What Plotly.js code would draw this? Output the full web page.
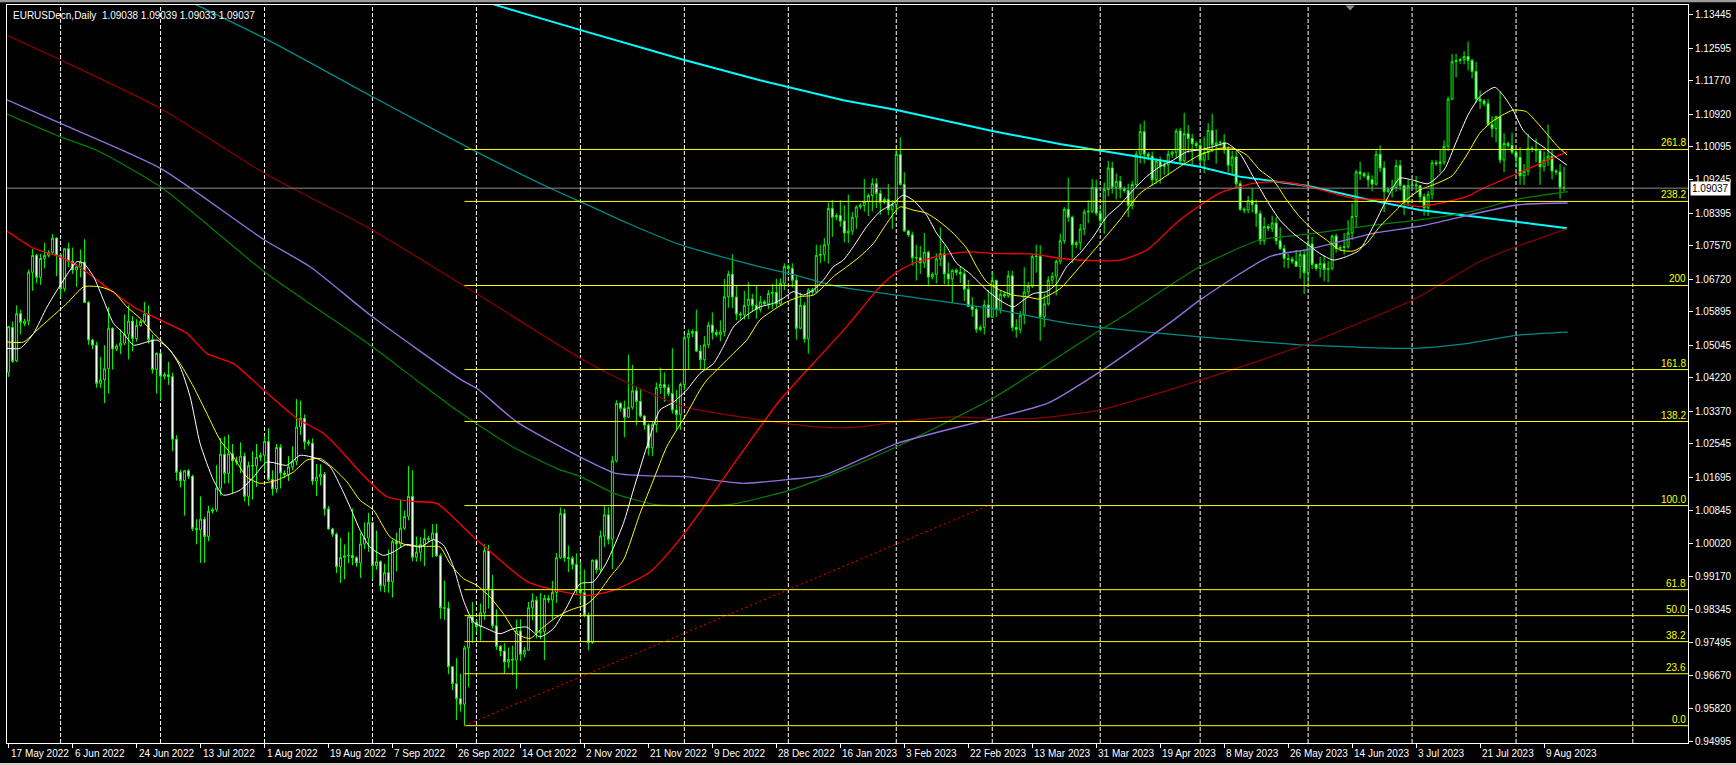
<!DOCTYPE html>
<html><head><meta charset="utf-8">
<script src="https://cdn.plot.ly/plotly-3.0.1.min.js"></script>
<style>html,body{margin:0;padding:0;background:#000;overflow:hidden}#chart{width:1736px;height:765px}</style>
</head><body><div id="chart"></div>
<script>
// ---- EURUSDecn Daily, bars 17 May 2022 .. 15 Aug 2023 (incl. short Sunday bars) ----
const opens = [
1.0436,1.0550,1.0465,1.0585,
1.0560,1.0566,1.0690,1.0733,1.0677,1.0725,
1.0733,1.0740,1.0777,1.0733,1.0648,1.0750,
1.0718,1.0696,1.0704,1.0716,1.0613,
1.0518,1.0505,1.0408,1.0417,1.0445,1.0548,
1.0495,1.0503,1.0510,1.0533,1.0566,1.0522,
1.0555,1.0565,1.0584,1.0519,1.0443,1.0484,
1.0426,1.0430,1.0425,1.0266,1.0182,1.0161,
1.0186,1.0172,1.0039,1.0036,1.0063,1.0019,
1.0083,1.0087,1.0142,1.0228,1.0179,1.0229,
1.0211,1.0208,1.0223,1.0121,1.0199,1.0198,
1.0220,1.0225,1.0260,1.0164,1.0140,1.0245,
1.0180,1.0176,1.0196,1.0210,1.0297,1.0319,
1.0259,1.0256,1.0160,1.0170,1.0177,1.0089,
1.0038,1.0025,0.9942,0.9966,0.9970,0.9971,
0.9965,0.9952,1.0000,1.0015,1.0054,0.9945,
0.9955,0.9894,0.9927,0.9904,1.0006,1.0000,
1.0040,1.0070,1.0121,0.9966,0.9979,0.9999,
1.0014,1.0012,1.0028,0.9970,0.9838,0.9837,
0.9688,0.9645,0.9607,0.9593,0.9736,0.9815,
0.9801,0.9790,0.9825,0.9983,0.9883,0.9792,
0.9740,0.9728,0.9700,0.9707,0.9705,0.9779,
0.9720,0.9730,0.9838,0.9857,0.9775,0.9777,
0.9862,0.9858,0.9877,0.9965,1.0077,0.9965,
0.9963,0.9948,0.9883,0.9876,0.9819,0.9750,
0.9959,0.9935,1.0020,1.0074,1.0012,1.0211,
1.0357,1.0345,1.0322,1.0347,1.0389,1.0362,
1.0325,1.0302,1.0244,1.0303,1.0397,1.0405,
1.0397,1.0382,1.0340,1.0329,1.0405,1.0524,
1.0535,1.0540,1.0490,1.0468,1.0506,1.0556,
1.0537,1.0532,1.0539,1.0628,1.0685,1.0627,
1.0584,1.0582,1.0606,1.0622,1.0606,1.0596,
1.0615,1.0610,1.0636,1.0639,1.0610,1.0662,
1.0705,1.0700,1.0670,1.0548,1.0606,1.0521,
1.0645,1.0640,1.0733,1.0735,1.0760,1.0852,
1.0830,1.0834,1.0820,1.0790,1.0795,1.0830,
1.0856,1.0860,1.0870,1.0885,1.0915,1.0890,
1.0868,1.0875,1.0849,1.0862,1.0989,1.0913,
1.0795,1.0785,1.0727,1.0727,1.0714,1.0741,
1.0678,1.0685,1.0724,1.0737,1.0686,1.0673,
1.0695,1.0690,1.0686,1.0647,1.0603,1.0596,
1.0545,1.0550,1.0607,1.0576,1.0669,1.0597,
1.0634,1.0630,1.0681,1.0550,1.0545,1.0581,
1.0640,1.0655,1.0730,1.0731,1.0577,1.0610,
1.0670,1.0680,1.0718,1.0770,1.0850,1.0830,
1.0760,1.0765,1.0800,1.0843,1.0845,1.0905,
1.0840,1.0822,1.0900,1.0955,1.0906,1.0921,
1.0902,1.0898,1.0860,1.0913,1.0990,1.1047,
1.0990,1.0985,1.0925,1.0972,1.0959,1.0963,
1.0990,1.0995,1.1049,1.0973,1.1042,1.1030,
1.1017,1.1012,1.0975,1.0994,1.1050,1.1014,
1.1019,1.1020,1.1003,1.0962,1.0983,1.0915,
1.0850,1.0848,1.0872,1.0862,1.0839,1.0770,
1.0806,1.0802,1.0815,1.0770,1.0750,1.0725,
1.0723,1.0718,1.0705,1.0735,1.0689,1.0762,
1.0710,1.0700,1.0712,1.0697,1.0700,1.0782,
1.0750,1.0753,1.0755,1.0790,1.0832,1.0945,
1.0940,1.0935,1.0925,1.0914,1.0990,1.0955,
1.0895,1.0900,1.0905,1.0961,1.0910,1.0867,
1.0910,1.0912,1.0910,1.0882,1.0854,1.0888,
1.0968,1.0966,1.0970,1.1010,1.1130,1.1225,
1.1228,1.1230,1.1238,1.1228,1.1200,1.1130,
1.1125,1.1118,1.1065,1.1055,1.1085,1.0975,
1.1017,1.1012,1.0995,1.0982,1.0935,1.0947,
1.1005,1.1003,1.0999,1.0958,1.0975,1.0985,
1.0947,1.0945,1.0905];

const highs = [
1.0554,1.0565,1.0606,1.0595,
1.0572,1.0697,1.0749,1.0737,1.0737,1.0765,
1.0746,1.0787,1.0779,1.0737,1.0750,1.0765,
1.0753,1.0711,1.0748,1.0774,1.0617,
1.0521,1.0514,1.0475,1.0505,1.0601,1.0550,
1.0507,1.0545,1.0583,1.0606,1.0579,1.0571,
1.0570,1.0615,1.0606,1.0532,1.0486,1.0486,
1.0436,1.0463,1.0435,1.0276,1.0189,1.0188,
1.0190,1.0176,1.0063,1.0121,1.0069,1.0097,
1.0092,1.0200,1.0269,1.0273,1.0278,1.0254,
1.0222,1.0258,1.0232,1.0209,1.0235,1.0254,
1.0232,1.0274,1.0294,1.0187,1.0254,1.0253,
1.0186,1.0223,1.0248,1.0368,1.0364,1.0329,
1.0265,1.0268,1.0203,1.0202,1.0183,1.0096,
1.0041,1.0029,1.0016,0.9999,1.0030,1.0090,
0.9969,1.0028,1.0055,1.0079,1.0056,1.0034,
0.9958,0.9950,0.9986,1.0011,1.0029,1.0113,
1.0085,1.0198,1.0187,1.0019,1.0017,1.0037,
1.0020,1.0050,1.0051,0.9976,0.9907,0.9853,
0.9690,0.9710,0.9671,0.9742,0.9816,0.9853,
0.9808,0.9849,0.9999,0.9998,0.9922,0.9834,
0.9744,0.9748,0.9737,0.9742,0.9808,0.9809,
0.9738,0.9853,0.9875,0.9867,0.9876,0.9871,
0.9870,0.9906,0.9977,1.0093,1.0089,0.9996,
0.9970,0.9976,0.9954,0.9935,0.9826,0.9960,
0.9962,1.0034,1.0096,1.0093,1.0223,1.0365,
1.0360,1.0364,1.0481,1.0455,1.0401,1.0393,
1.0327,1.0306,1.0311,1.0410,1.0448,1.0436,
1.0405,1.0497,1.0391,1.0410,1.0530,1.0545,
1.0545,1.0595,1.0505,1.0528,1.0564,1.0588,
1.0545,1.0568,1.0673,1.0694,1.0736,1.0657,
1.0590,1.0643,1.0665,1.0635,1.0657,1.0630,
1.0620,1.0645,1.0660,1.0673,1.0675,1.0713,
1.0710,1.0713,1.0684,1.0638,1.0614,1.0650,
1.0650,1.0760,1.0759,1.0777,1.0867,1.0874,
1.0840,1.0873,1.0860,1.0887,1.0843,1.0860,
1.0865,1.0927,1.0890,1.0929,1.0929,1.0900,
1.0880,1.0914,1.0873,1.1000,1.1033,1.0944,
1.0798,1.0793,1.0760,1.0757,1.0790,1.0745,
1.0690,1.0738,1.0804,1.0758,1.0715,1.0697,
1.0700,1.0705,1.0698,1.0671,1.0627,1.0603,
1.0556,1.0620,1.0645,1.0691,1.0672,1.0643,
1.0640,1.0694,1.0694,1.0571,1.0592,1.0703,
1.0665,1.0737,1.0760,1.0759,1.0635,1.0680,
1.0690,1.0722,1.0788,1.0856,1.0930,1.0834,
1.0770,1.0813,1.0850,1.0873,1.0927,1.0925,
1.0850,1.0918,1.0973,1.0971,1.0941,1.0935,
1.0908,1.0915,1.0922,1.0998,1.1067,1.1075,
1.0995,1.0997,1.0979,1.0984,1.0971,1.1000,
1.1000,1.1055,1.1057,1.1095,1.1064,1.1042,
1.1023,1.1029,1.1035,1.1069,1.1092,1.1053,
1.1025,1.1041,1.1010,1.0998,1.0998,1.0923,
1.0855,1.0884,1.0904,1.0875,1.0847,1.0830,
1.0812,1.0834,1.0830,1.0804,1.0760,1.0737,
1.0730,1.0747,1.0744,1.0745,1.0779,1.0780,
1.0712,1.0729,1.0732,1.0719,1.0786,1.0788,
1.0758,1.0790,1.0823,1.0865,1.0950,1.0971,
1.0945,1.0945,1.0936,1.1000,1.1012,1.0972,
1.0905,1.0925,1.0976,1.0975,1.0913,1.0925,
1.0918,1.0935,1.0912,1.0890,1.0897,1.0975,
1.0975,1.1001,1.1025,1.1136,1.1245,1.1245,
1.1235,1.1252,1.1276,1.1232,1.1224,1.1152,
1.1130,1.1130,1.1087,1.1088,1.1149,1.1043,
1.1022,1.1045,1.1000,1.1008,1.0965,1.1042,
1.1010,1.1030,1.1001,1.0997,1.1065,1.1004,
1.0952,1.0965,1.0958];

const lows = [
1.0424,1.0460,1.0462,1.0532,
1.0553,1.0555,1.0643,1.0662,1.0658,1.0700,
1.0728,1.0737,1.0680,1.0627,1.0641,1.0703,
1.0686,1.0653,1.0677,1.0612,1.0506,
1.0495,1.0397,1.0396,1.0358,1.0382,1.0443,
1.0490,1.0482,1.0505,1.0469,1.0489,1.0514,
1.0552,1.0560,1.0509,1.0433,1.0382,1.0365,
1.0418,1.0404,1.0236,1.0161,1.0144,1.0072,
1.0165,1.0033,0.9999,0.9952,0.9952,1.0007,
1.0077,1.0082,1.0123,1.0153,1.0154,1.0128,
1.0200,1.0180,1.0108,1.0097,1.0113,1.0145,
1.0210,1.0185,1.0160,1.0123,1.0130,1.0141,
1.0168,1.0160,1.0187,1.0200,1.0277,1.0240,
1.0250,1.0150,1.0122,1.0149,1.0072,1.0036,
1.0018,0.9926,0.9901,0.9910,0.9951,0.9946,
0.9942,0.9914,0.9987,0.9980,0.9910,0.9935,
0.9880,0.9877,0.9876,0.9864,0.9930,0.9990,
1.0035,1.0060,0.9956,0.9955,0.9956,0.9944,
1.0005,0.9966,0.9967,0.9810,0.9807,0.9669,
0.9629,0.9553,0.9574,0.9538,0.9636,0.9749,
0.9777,0.9754,0.9807,0.9836,0.9785,0.9731,
0.9715,0.9671,0.9684,0.9667,0.9632,0.9703,
0.9712,0.9728,0.9806,0.9760,0.9758,0.9705,
0.9850,0.9808,0.9850,0.9962,0.9954,0.9929,
0.9935,0.9870,0.9851,0.9814,0.9730,0.9746,
0.9925,0.9928,0.9992,0.9999,0.9936,1.0207,
1.0336,1.0271,1.0320,1.0341,1.0302,1.0321,
1.0290,1.0225,1.0223,1.0283,1.0381,1.0361,
1.0375,1.0331,1.0290,1.0290,1.0391,1.0443,
1.0525,1.0487,1.0442,1.0444,1.0497,1.0519,
1.0526,1.0515,1.0527,1.0600,1.0599,1.0568,
1.0570,1.0570,1.0571,1.0591,1.0572,1.0588,
1.0605,1.0596,1.0597,1.0601,1.0607,1.0645,
1.0690,1.0652,1.0519,1.0545,1.0511,1.0483,
1.0632,1.0637,1.0713,1.0718,1.0712,1.0780,
1.0822,1.0806,1.0766,1.0765,1.0785,1.0800,
1.0850,1.0844,1.0833,1.0845,1.0853,1.0836,
1.0864,1.0835,1.0800,1.0842,1.0910,1.0793,
1.0780,1.0707,1.0669,1.0686,1.0701,1.0654,
1.0672,1.0662,1.0706,1.0660,1.0654,1.0613,
1.0682,1.0663,1.0617,1.0602,1.0577,1.0536,
1.0540,1.0532,1.0575,1.0574,1.0577,1.0585,
1.0625,1.0625,1.0540,1.0524,1.0535,1.0558,
1.0630,1.0650,1.0689,1.0516,1.0551,1.0605,
1.0660,1.0631,1.0710,1.0762,1.0818,1.0713,
1.0752,1.0747,1.0784,1.0815,1.0840,1.0834,
1.0810,1.0788,1.0883,1.0890,1.0875,1.0878,
1.0892,1.0830,1.0850,1.0906,1.0967,1.0966,
1.0975,1.0910,1.0915,1.0915,1.0938,1.0936,
1.0980,1.0980,1.0965,1.0968,1.0993,1.0960,
1.1005,1.0965,1.0942,1.0975,1.0995,1.0966,
1.1010,1.0991,1.0944,1.0940,1.0906,1.0846,
1.0840,1.0840,1.0842,1.0805,1.0760,1.0760,
1.0795,1.0792,1.0760,1.0747,1.0702,1.0700,
1.0712,1.0704,1.0674,1.0635,1.0662,1.0698,
1.0694,1.0677,1.0667,1.0665,1.0695,1.0740,
1.0745,1.0735,1.0750,1.0772,1.0803,1.0924,
1.0930,1.0905,1.0896,1.0910,1.0945,1.0843,
1.0890,1.0880,1.0895,1.0898,1.0835,1.0858,
1.0905,1.0892,1.0867,1.0834,1.0833,1.0875,
1.0960,1.0943,1.0963,1.0998,1.1127,1.1185,
1.1220,1.1218,1.1203,1.1183,1.1120,1.1105,
1.1112,1.1062,1.1033,1.1020,1.0967,1.0944,
1.1005,1.0990,1.0956,1.0912,1.0912,1.0936,
1.0995,1.0970,1.0912,1.0946,1.0960,1.0926,
1.0938,1.0877,1.0896];

const closes = [
1.0552,1.0464,1.0585,1.0563,
1.0566,1.0690,1.0733,1.0677,1.0725,1.0733,
1.0740,1.0777,1.0733,1.0648,1.0750,1.0718,
1.0696,1.0704,1.0716,1.0613,1.0518,
1.0505,1.0408,1.0417,1.0445,1.0548,1.0495,
1.0503,1.0510,1.0533,1.0566,1.0522,1.0555,
1.0565,1.0584,1.0519,1.0443,1.0484,1.0426,
1.0430,1.0425,1.0266,1.0182,1.0161,1.0186,
1.0172,1.0039,1.0036,1.0063,1.0019,1.0083,
1.0087,1.0142,1.0228,1.0179,1.0229,1.0211,
1.0208,1.0223,1.0121,1.0199,1.0198,1.0220,
1.0225,1.0260,1.0164,1.0140,1.0245,1.0180,
1.0176,1.0196,1.0210,1.0297,1.0319,1.0259,
1.0256,1.0160,1.0170,1.0177,1.0089,1.0038,
1.0025,0.9942,0.9966,0.9970,0.9971,0.9965,
0.9952,1.0000,1.0015,1.0054,0.9945,0.9955,
0.9894,0.9927,0.9904,1.0006,1.0000,1.0040,
1.0070,1.0121,0.9966,0.9979,0.9999,1.0014,
1.0012,1.0028,0.9970,0.9838,0.9837,0.9688,
0.9645,0.9607,0.9593,0.9736,0.9815,0.9801,
0.9790,0.9825,0.9983,0.9883,0.9792,0.9740,
0.9728,0.9700,0.9707,0.9705,0.9779,0.9720,
0.9730,0.9838,0.9857,0.9775,0.9777,0.9862,
0.9858,0.9877,0.9965,1.0077,0.9965,0.9963,
0.9948,0.9883,0.9876,0.9819,0.9750,0.9959,
0.9935,1.0020,1.0074,1.0012,1.0211,1.0357,
1.0345,1.0322,1.0347,1.0389,1.0362,1.0325,
1.0302,1.0244,1.0303,1.0397,1.0405,1.0397,
1.0382,1.0340,1.0329,1.0405,1.0524,1.0535,
1.0540,1.0490,1.0468,1.0506,1.0556,1.0537,
1.0532,1.0539,1.0628,1.0685,1.0627,1.0584,
1.0582,1.0606,1.0622,1.0606,1.0596,1.0615,
1.0610,1.0636,1.0639,1.0610,1.0662,1.0705,
1.0700,1.0670,1.0548,1.0606,1.0521,1.0645,
1.0640,1.0733,1.0735,1.0760,1.0852,1.0830,
1.0834,1.0820,1.0790,1.0795,1.0830,1.0856,
1.0860,1.0870,1.0885,1.0915,1.0890,1.0868,
1.0875,1.0849,1.0862,1.0989,1.0913,1.0795,
1.0785,1.0727,1.0727,1.0714,1.0741,1.0678,
1.0685,1.0724,1.0737,1.0686,1.0673,1.0695,
1.0690,1.0686,1.0647,1.0603,1.0596,1.0545,
1.0550,1.0607,1.0576,1.0669,1.0597,1.0634,
1.0630,1.0681,1.0550,1.0545,1.0581,1.0640,
1.0655,1.0730,1.0731,1.0577,1.0610,1.0670,
1.0680,1.0718,1.0770,1.0850,1.0830,1.0760,
1.0765,1.0800,1.0843,1.0845,1.0905,1.0840,
1.0822,1.0900,1.0955,1.0906,1.0921,1.0902,
1.0898,1.0860,1.0913,1.0990,1.1047,1.0990,
1.0985,1.0925,1.0972,1.0959,1.0963,1.0990,
1.0995,1.1049,1.0973,1.1042,1.1030,1.1017,
1.1012,1.0975,1.0994,1.1050,1.1014,1.1019,
1.1020,1.1003,1.0962,1.0983,1.0915,1.0850,
1.0848,1.0872,1.0862,1.0839,1.0770,1.0806,
1.0802,1.0815,1.0770,1.0750,1.0725,1.0723,
1.0718,1.0705,1.0735,1.0689,1.0762,1.0710,
1.0700,1.0712,1.0697,1.0700,1.0782,1.0750,
1.0753,1.0755,1.0790,1.0832,1.0945,1.0940,
1.0935,1.0925,1.0914,1.0990,1.0955,1.0895,
1.0900,1.0905,1.0961,1.0910,1.0867,1.0910,
1.0912,1.0910,1.0882,1.0854,1.0888,1.0968,
1.0966,1.0970,1.1010,1.1130,1.1225,1.1228,
1.1230,1.1238,1.1228,1.1200,1.1130,1.1125,
1.1118,1.1065,1.1055,1.1085,1.0975,1.1017,
1.1012,1.0995,1.0982,1.0935,1.0947,1.1005,
1.1003,1.0999,1.0958,1.0975,1.0985,1.0947,
1.0945,1.0905,1.0904];

// time axis labels (bar index of each label) and month separators (grid)
const tickIdx = [0,16,32,48,64,80,96,112,128,144,160,176,192,208,224,240,256,272,288,304,320,336,352,368,384];
const tickLabels = ['17 May 2022','6 Jun 2022','24 Jun 2022','13 Jul 2022','1 Aug 2022','19 Aug 2022','7 Sep 2022','26 Sep 2022','14 Oct 2022','2 Nov 2022','21 Nov 2022','9 Dec 2022','28 Dec 2022','16 Jan 2023','3 Feb 2023','22 Feb 2023','13 Mar 2023','31 Mar 2023','19 Apr 2023','8 May 2023','26 May 2023','14 Jun 2023','3 Jul 2023','21 Jul 2023','9 Aug 2023'];
const monthIdx = [13,38,64,91,117,143,169,195,222,246,273,298,325,351,377,406.2];
const priceTicks = [1.13445,1.12595,1.11770,1.10920,1.10095,1.09245,1.08395,1.07570,1.06720,1.05895,1.05045,1.04220,1.03370,1.02545,1.01695,1.00845,1.00020,0.99170,0.98345,0.97495,0.96670,0.95820,0.94995];

// Fibonacci object
const fibLevels = [0,23.6,38.2,50,61.8,100,138.2,161.8,200,238.2,261.8];
const fibLabels = ['0.0','23.6','38.2','50.0','61.8','100.0','138.2','161.8','200','238.2','261.8'];
const fibLow = 0.95385, fibHigh = 1.00975;
const fibStartIdx = 114, fibEndIdx = 245;
const bidPrice = 1.09037;
const shiftMarkIdx = 335.5;

// moving averages (bar index, price)
const maWhiteIdx = [-0.4,2.9,6.25,9.6,12.9,17.1,18.75,21.25,23.75,26.25,28.75,31.25,34.6,37.1,40.4,42.9,45.4,47.9,51.25,53.75,57.9,61.25,64.6,69.6,72.9,77.1,80.4,82.9,85.4,87.9,90.4,93.75,96.25,99.6,102.9,106.25,108.75,111.25,113.75,116.25,119.6,122.9,126.25,129.6,132.9,136.25,139.6,142.9,146.25,149.6,153.75,156.25,159.6,162.9,166.25,169.6,172.9,176.25,178.75,181.25,184.6,187.9,191.25,193.75,196.25,198.75,201.25,203.75,206.25,208.75,211.25,214.6,217.9,221.25,223.75,226.25,229.6,232.1,234.6,237.1,240.4,244.6,247.9,251.25,253.75,256.25,259.6,262,264.6,267.9,271.25,274.6,277.9,281.25,284.6,287.9,291.25,294.6,297.9,301.25,304.6,307.9,311.25,314.6,317.9,321.25,324.6,327.9,331.25,334.6,337.9,341.25,344.6,347.9,351.25,355,359,362,365,367.9,369.6,371.7,373.75,376.25,378.75,381.25,383.75,386.25,389.75];
const maWhiteVal = [1.0497,1.0497,1.0535,1.0602,1.0657,1.0717,1.0713,1.0679,1.0619,1.0560,1.0535,1.0505,1.0513,1.0518,1.0492,1.0450,1.0374,1.0255,1.0162,1.0124,1.0137,1.0170,1.0208,1.0200,1.0225,1.0217,1.0196,1.0149,1.0094,1.0035,0.9992,0.9971,0.9980,0.9999,0.9992,1.0011,0.9997,0.9942,0.9857,0.9802,0.9785,0.9772,0.9785,0.9789,0.9764,0.9785,0.9840,0.9899,0.9904,0.9954,1.0052,1.0137,1.0247,1.0340,1.0360,1.0391,1.0433,1.0458,1.0501,1.0551,1.0581,1.0602,1.0611,1.0624,1.0641,1.0632,1.0645,1.0670,1.0704,1.0721,1.0755,1.0806,1.0844,1.0865,1.0886,1.0873,1.0835,1.0789,1.0755,1.0713,1.0687,1.0645,1.0619,1.0602,1.0619,1.0636,1.0641,1.0660,1.0704,1.0738,1.0780,1.0831,1.0861,1.0899,1.0933,1.0958,1.0975,1.0996,1.1001,1.1009,1.1018,1.0992,1.0933,1.0874,1.0823,1.0789,1.0763,1.0738,1.0721,1.0730,1.0747,1.0806,1.0874,1.0929,1.0924,1.0915,1.0950,1.1020,1.1090,1.1136,1.1149,1.1160,1.1140,1.1102,1.1051,1.1026,1.1009,1.0988,1.0962];

const maYellowIdx = [-0.4,3.75,7.1,10.4,14.6,18.75,22.9,26.25,29.6,32.9,36.25,39.6,42.9,46.25,49.6,52.9,56.25,59.6,62.9,67.1,71.25,74.6,77.9,81.25,84.6,87.9,91.25,95.4,99.6,104.6,107.9,110.4,113.75,117.1,120.4,123.75,127.1,130.4,133.75,137.1,140.4,144.6,147.1,150.4,153.75,157.9,161.25,164.6,169.6,172.9,174.6,177.9,181.25,184.6,187.9,191.25,194.6,197.9,201.25,203.75,206.25,209.6,212.9,216.25,219.6,222.9,226.25,229.6,232.9,236.25,239.6,242.1,244.6,247.9,251.25,254.6,257.9,262.9,267.9,272.9,277.9,282.9,287.9,292.9,297.9,302.9,306.25,309.6,312.9,316.25,319.6,322.9,326.25,329.6,332.9,336.25,339.6,342.9,346.25,349.6,352.9,357,361,364.5,367.9,370.4,372.9,376.25,379.6,382.1,384.6,387.1,389.75];
const maYellowVal = [1.0513,1.0513,1.0543,1.0573,1.0611,1.0653,1.0653,1.0640,1.0602,1.0573,1.0535,1.0501,1.0458,1.0399,1.0331,1.0264,1.0221,1.0170,1.0154,1.0162,1.0183,1.0213,1.0217,1.0192,1.0158,1.0111,1.0086,1.0018,0.9997,0.9994,0.9992,0.9950,0.9912,0.9895,0.9865,0.9823,0.9772,0.9760,0.9789,0.9815,0.9832,0.9847,0.9870,0.9916,0.9959,1.0077,1.0162,1.0247,1.0331,1.0391,1.0416,1.0450,1.0484,1.0518,1.0569,1.0594,1.0615,1.0628,1.0632,1.0653,1.0679,1.0704,1.0730,1.0763,1.0814,1.0856,1.0848,1.0840,1.0818,1.0789,1.0751,1.0704,1.0666,1.0645,1.0632,1.0628,1.0622,1.0648,1.0704,1.0763,1.0823,1.0890,1.0924,1.0958,1.0988,1.1005,1.1005,1.0988,1.0950,1.0924,1.0874,1.0831,1.0797,1.0772,1.0747,1.0744,1.0763,1.0806,1.0840,1.0874,1.0899,1.0915,1.0935,1.0985,1.1043,1.1068,1.1085,1.1102,1.1098,1.1072,1.1043,1.1013,1.0988];

const maRedIdx = [-0.4,6.25,12.9,18.75,25.4,31.25,37.9,44.6,49.6,56.25,63.75,72.1,78.75,83,87.9,94.6,101,107.1,116.25,129.6,136.25,144.6,151.25,160.4,166.25,172.9,182.5,192.9,201.25,209.6,217.9,222.1,226.25,234.6,240.4,246.1,256.4,263.2,272.9,277.9,284.6,292.9,302.9,311.25,317.9,324.6,336.25,344.6,352.9,364.6,367.9,389.75];
const maRedVal = [1.0795,1.0751,1.0729,1.0696,1.0645,1.0602,1.0569,1.0535,1.0484,1.0458,1.0391,1.0319,1.0281,1.0238,1.0183,1.0120,1.0108,1.0103,1.0018,0.9905,0.9884,0.9869,0.9882,0.9929,0.9992,1.0081,1.0220,1.0365,1.0459,1.0552,1.0653,1.0690,1.0713,1.0736,1.0742,1.0738,1.0736,1.0725,1.0719,1.0721,1.0746,1.0823,1.0891,1.0916,1.0920,1.0909,1.0878,1.0874,1.0857,1.0882,1.0899,1.0996];

const maGreenIdx = [-0.4,13,22,38,64,91,102,112,126,137,143,151.6,161.7,170,180.3,195.2,208,222.1,246.1,272.9,277.1,297.9,312.9,325,341.2,352.9,366,377,389.9];
const maGreenVal = [1.1092,1.1034,1.1000,1.0907,1.0691,1.0501,1.0416,1.0340,1.0247,1.0192,1.0171,1.0128,1.0100,1.0097,1.0100,1.0136,1.0185,1.0247,1.0370,1.0543,1.0568,1.0704,1.0772,1.0787,1.0810,1.0823,1.0845,1.0875,1.0895];

const maPurpleIdx = [-0.4,13,38,64,75.4,91,113.35,117.1,127.1,143.1,151.6,160,169.2,183.7,195.2,204,222.1,246.1,259.8,272.9,291.25,298,315.4,325,341.25,352.9,377.1,389.9];
const maPurpleVal = [1.1128,1.1068,1.0954,1.0772,1.0704,1.0577,1.0416,1.0395,1.0310,1.0220,1.0180,1.0173,1.0171,1.0154,1.0164,1.0175,1.0255,1.0319,1.0357,1.0437,1.0568,1.0620,1.0730,1.0748,1.0789,1.0807,1.0861,1.0866];

const maDarkRedIdx = [-0.4,13.1,38,64.1,91,117,143.1,155,169.2,188.8,204,212.4,222.1,236.1,246.1,256.4,272.9,298,325,351,367.9,377.1,389.9];
const maDarkRedVal = [1.1292,1.1229,1.1106,1.0941,1.0797,1.0636,1.0471,1.0408,1.0348,1.0314,1.0296,1.0297,1.0310,1.0323,1.0319,1.0319,1.0340,1.0416,1.0509,1.0619,1.0717,1.0755,1.0801];

const maTealIdx = [40,47.6,64.1,91,117,136.4,143.1,155,168,187.9,195.1,207.9,222.1,246,262.9,272.9,298,325,351,364.6,377,389.9];
const maTealVal = [1.1404,1.1366,1.1284,1.1136,1.0996,1.0899,1.0869,1.0814,1.0760,1.0704,1.0687,1.0653,1.0632,1.0598,1.0564,1.0550,1.0526,1.0505,1.0497,1.0509,1.0530,1.0538];

const maCyanIdx = [115,122.75,143.1,169,187.9,208.75,222.1,246,262.9,272.9,297.9,307.9,325,341.25,352.9,367.9,389.75];
const maCyanVal = [1.1390,1.1366,1.1305,1.1229,1.1178,1.1127,1.1102,1.1049,1.1016,1.0999,1.0958,1.0933,1.0909,1.0872,1.0848,1.0830,1.0802];

// ---------------------------------------------------------------
const barIdx = opens.map((_, i) => i);
const xMin = -0.4, xMax = 420;
const FONT = 'Liberation Sans, Arial, sans-serif';

function maTrace(xs, ys, color, width, shape) {
  return {type:'scatter', mode:'lines', x:xs, y:ys, hoverinfo:'skip',
          line:{color:color, width:width, shape:shape || 'spline', smoothing:0.6}};
}

const traces = [
  {type:'candlestick', x:barIdx, open:opens, high:highs, low:lows, close:closes,
   increasing:{line:{color:'#00ff00', width:1}, fillcolor:'#000000'},
   decreasing:{line:{color:'#00ff00', width:1}, fillcolor:'#ffffff'},
   whiskerwidth:0, hoverinfo:'skip', showlegend:false},
  maTrace(maCyanIdx, maCyanVal, '#00ffff', 2, 'linear'),
  maTrace(maTealIdx, maTealVal, '#008b8b', 1.3),
  maTrace(maDarkRedIdx, maDarkRedVal, '#8b0000', 1.2),
  maTrace(maGreenIdx, maGreenVal, '#008000', 1.2),
  maTrace(maPurpleIdx, maPurpleVal, '#9370db', 1.4),
  maTrace(maRedIdx, maRedVal, '#ff0000', 1.3),
  maTrace(maYellowIdx, maYellowVal, '#ffff00', 1),
  maTrace(maWhiteIdx, maWhiteVal, '#ffffff', 1)
];

const shapes = [];
monthIdx.forEach(m => shapes.push({type:'line', xref:'x', yref:'paper', x0:m, x1:m, y0:0, y1:1,
  line:{color:'#ffffff', width:1, dash:'4px,2px'}, layer:'below'}));
const annotations = [];
fibLevels.forEach((lv, k) => {
  const p = fibLow + lv / 100 * (fibHigh - fibLow);
  shapes.push({type:'line', xref:'x', yref:'y', x0:fibStartIdx, x1:xMax, y0:p, y1:p,
    line:{color:'#ffff00', width:1}});
  annotations.push({xref:'x', yref:'y', x:xMax, y:p, xanchor:'right', yanchor:'bottom',
    text:fibLabels[k], showarrow:false, font:{family:FONT, size:10, color:'#ffff00'},
    borderpad:0, yshift:0, xshift:-1});
});
shapes.push({type:'line', xref:'x', yref:'y', x0:fibStartIdx, y0:fibLow, x1:fibEndIdx, y1:fibHigh,
  line:{color:'#ff0000', width:1, dash:'2px,3px'}});
shapes.push({type:'line', xref:'paper', yref:'y', x0:0, x1:1, y0:bidPrice, y1:bidPrice,
  line:{color:'#8c8c8c', width:1}});
// window frame strips (top and bottom)
shapes.push({type:'rect', xref:'paper', yref:'paper', x0:-0.01, x1:1.03, y0:-0.0272, y1:-0.035,
  line:{width:0}, fillcolor:'#d4d0c8'});
shapes.push({type:'rect', xref:'paper', yref:'paper', x0:-0.01, x1:1.03, y0:1.0037, y1:1.0075,
  line:{width:0}, fillcolor:'#9a9a9a'});
// chart-shift marker on the top border
shapes.push({type:'path', xref:'x', yref:'paper',
  path:'M ' + (shiftMarkIdx - 1.15) + ' 0.9993 L ' + (shiftMarkIdx + 1.15) + ' 0.9993 L ' + shiftMarkIdx + ' 0.9924 Z',
  fillcolor:'#7d8c9c', line:{width:0}});

// time labels: left-aligned at their tick, like the terminal
tickIdx.forEach((t, k) => annotations.push({xref:'x', yref:'paper', x:t, y:0, xanchor:'left', yanchor:'middle',
  xshift:1, yshift:-10, text:tickLabels[k], showarrow:false, borderpad:0,
  font:{family:FONT, size:10, color:'#ffffff'}}));

annotations.push({xref:'paper', yref:'paper', x:0, y:1, xanchor:'left', yanchor:'top', xshift:4, yshift:-3,
  text:'EURUSDecn,Daily\u00a0\u00a01.09038 1.09039 1.09033 1.09037', showarrow:false,
  font:{family:FONT, size:10, color:'#ffffff'}});
annotations.push({xref:'paper', yref:'y', x:1, y:bidPrice, xanchor:'left', yanchor:'middle', xshift:2,
  text:bidPrice.toFixed(5), showarrow:false, bgcolor:'#ffffff', borderpad:1,
  font:{family:FONT, size:10, color:'#000000'}});

const layout = {
  width:1736, height:765,
  margin:{l:7, r:48, t:5, b:22, pad:0},
  paper_bgcolor:'#000000', plot_bgcolor:'#000000',
  showlegend:false, hovermode:false,
  xaxis:{type:'linear', range:[xMin, xMax], tickmode:'array', tickvals:tickIdx, ticktext:tickLabels,
    showticklabels:false, ticks:'outside', ticklen:4, tickcolor:'#ffffff', tickwidth:1,
    showgrid:false, zeroline:false, showline:true, linecolor:'#ffffff', linewidth:1, mirror:true,
    rangeslider:{visible:false}, fixedrange:true, automargin:false},
  yaxis:{side:'right', range:[0.94945, 1.13689], tickmode:'array', tickvals:priceTicks,
    ticktext:priceTicks.map(v => v.toFixed(5)), ticks:'outside', ticklen:4, tickcolor:'#ffffff',
    tickfont:{family:FONT, size:10, color:'#ffffff'},
    showgrid:false, zeroline:false, showline:true, linecolor:'#ffffff', linewidth:1, mirror:true,
    fixedrange:true, automargin:false},
  shapes:shapes, annotations:annotations
};

Plotly.newPlot('chart', traces, layout, {displayModeBar:false, staticPlot:true});
</script>
</body></html>
